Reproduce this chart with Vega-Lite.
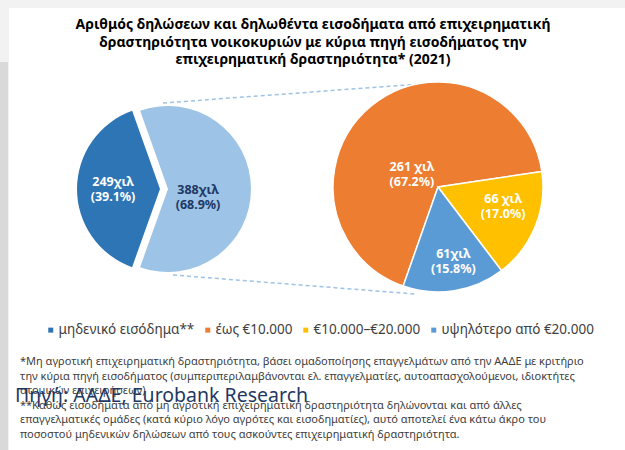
{
  "$schema": "https://vega.github.io/schema/vega-lite/v6.json",
  "width": 625,
  "height": 450,
  "padding": 0,
  "autosize": {"type": "none"},
  "background": "#f2f2f2",
  "config": {"view": {"stroke": null}, "font": "Noto Sans"},
  "datasets": {
    "left": [
      {"segment": "μη μηδενικό εισόδημα", "value": 388, "k": 1, "label": "388χιλ\n(68.9%)"},
      {"segment": "μηδενικό εισόδημα**", "value": 249, "k": 2, "label": "249χιλ\n(39.1%)"}
    ],
    "right": [
      {"segment": "έως €10.000", "value": 261, "k": 1, "label": "261 χιλ\n(67.2%)"},
      {"segment": "€10.000–€20.000", "value": 66, "k": 2, "label": "66 χιλ\n(17.0%)"},
      {"segment": "υψηλότερο από €20.000", "value": 61, "k": 3, "label": "61χιλ\n(15.8%)"}
    ]
  },
  "layer": [
    {
      "data": {"values": [{}]},
      "mark": {"type": "rect", "color": "#ffffff"},
      "encoding": {
        "x": {"datum": 9, "type": "quantitative", "scale": {"domain": [0, 625], "nice": false, "zero": false}, "axis": null},
        "x2": {"datum": 625},
        "y": {"datum": 8, "type": "quantitative", "scale": {"domain": [0, 450], "nice": false, "zero": false, "reverse": true}, "axis": null},
        "y2": {"datum": 450}
      }
    },
    {
      "data": {"values": [{}]},
      "mark": {"type": "rect", "color": "#d9d9d9"},
      "encoding": {
        "x": {"datum": 0, "type": "quantitative", "axis": null},
        "x2": {"datum": 8},
        "y": {"datum": 62, "type": "quantitative", "axis": null},
        "y2": {"datum": 450}
      }
    },
    {
      "data": {"values": [{}]},
      "mark": {"type": "rule", "color": "#9dc3e6", "strokeWidth": 1.5, "strokeDash": [4, 3]},
      "encoding": {
        "x": {"datum": 163, "type": "quantitative", "axis": null},
        "x2": {"datum": 420},
        "y": {"datum": 103, "type": "quantitative", "axis": null},
        "y2": {"datum": 84}
      }
    },
    {
      "data": {"values": [{}]},
      "mark": {"type": "rule", "color": "#9dc3e6", "strokeWidth": 1.5, "strokeDash": [4, 3]},
      "encoding": {
        "x": {"datum": 173, "type": "quantitative", "axis": null},
        "x2": {"datum": 415},
        "y": {"datum": 275, "type": "quantitative", "axis": null},
        "y2": {"datum": 294}
      }
    },
    {
      "data": {"name": "left"},
      "mark": {"type": "arc", "radius": 83},
      "encoding": {
        "x": {"datum": 160, "type": "quantitative", "axis": null},
        "y": {"datum": 189, "type": "quantitative", "axis": null},
        "theta": {"field": "value", "type": "quantitative", "stack": true, "scale": {"range": [5.941, 12.224]}},
        "order": {"field": "k", "type": "quantitative"},
        "opacity": {"condition": {"test": "datum.k === 1", "value": 0}, "value": 1},
        "color": {
          "field": "segment", "type": "nominal",
          "scale": {"domain": ["μηδενικό εισόδημα**", "έως €10.000", "€10.000–€20.000", "υψηλότερο από €20.000", "μη μηδενικό εισόδημα"], "range": ["#2e75b6", "#ed7d31", "#ffc000", "#5b9bd5", "#9dc3e6"]},
          "legend": {"values": ["μηδενικό εισόδημα**", "έως €10.000", "€10.000–€20.000", "υψηλότερο από €20.000"], "title": null, "orient": "none", "legendX": 44, "legendY": 323, "direction": "horizontal", "symbolType": "square", "symbolSize": 25, "symbolOpacity": 1, "symbolStrokeWidth": 0, "labelFontSize": 13.5, "labelColor": "#404040", "labelFont": "Noto Sans", "columnPadding": 6, "labelOffset": 1}
        }
      }
    },
    {
      "data": {"name": "left"},
      "mark": {"type": "arc", "radius": 83},
      "encoding": {
        "x": {"datum": 168, "type": "quantitative", "axis": null},
        "y": {"datum": 189, "type": "quantitative", "axis": null},
        "theta": {"field": "value", "type": "quantitative", "stack": true, "scale": {"range": [5.941, 12.224]}},
        "order": {"field": "k", "type": "quantitative"},
        "opacity": {"condition": {"test": "datum.k === 2", "value": 0}, "value": 1},
        "color": {
          "field": "segment", "type": "nominal",
          "scale": {"domain": ["μηδενικό εισόδημα**", "έως €10.000", "€10.000–€20.000", "υψηλότερο από €20.000", "μη μηδενικό εισόδημα"], "range": ["#2e75b6", "#ed7d31", "#ffc000", "#5b9bd5", "#9dc3e6"]},
          "legend": {"values": ["μηδενικό εισόδημα**", "έως €10.000", "€10.000–€20.000", "υψηλότερο από €20.000"], "title": null, "orient": "none", "legendX": 44, "legendY": 323, "direction": "horizontal", "symbolType": "square", "symbolSize": 25, "symbolOpacity": 1, "symbolStrokeWidth": 0, "labelFontSize": 13.5, "labelColor": "#404040", "labelFont": "Noto Sans", "columnPadding": 6, "labelOffset": 1}
        }
      }
    },
    {
      "data": {"name": "right"},
      "mark": {"type": "arc", "radius": 105, "stroke": "#ffffff", "strokeWidth": 1.5},
      "encoding": {
        "x": {"datum": 438, "type": "quantitative", "axis": null},
        "y": {"datum": 187, "type": "quantitative", "axis": null},
        "theta": {"field": "value", "type": "quantitative", "stack": true, "scale": {"range": [3.48, 9.763]}},
        "order": {"field": "k", "type": "quantitative"},
        "color": {
          "field": "segment", "type": "nominal",
          "scale": {"domain": ["μηδενικό εισόδημα**", "έως €10.000", "€10.000–€20.000", "υψηλότερο από €20.000", "μη μηδενικό εισόδημα"], "range": ["#2e75b6", "#ed7d31", "#ffc000", "#5b9bd5", "#9dc3e6"]},
          "legend": {"values": ["μηδενικό εισόδημα**", "έως €10.000", "€10.000–€20.000", "υψηλότερο από €20.000"], "title": null, "orient": "none", "legendX": 44, "legendY": 323, "direction": "horizontal", "symbolType": "square", "symbolSize": 25, "symbolOpacity": 1, "symbolStrokeWidth": 0, "labelFontSize": 13.5, "labelColor": "#404040", "labelFont": "Noto Sans", "columnPadding": 6, "labelOffset": 1}
        }
      }
    },
    {
      "data": {"name": "left"},
      "mark": {"type": "text", "radius": 47, "dy": -7, "lineBreak": "\n", "fontSize": 12.5, "fontWeight": "bold", "color": "#ffffff", "lineHeight": 15},
      "encoding": {
        "x": {"datum": 160, "type": "quantitative", "axis": null},
        "y": {"datum": 189, "type": "quantitative", "axis": null},
        "theta": {"field": "value", "type": "quantitative", "stack": true, "scale": {"range": [5.941, 12.224]}},
        "order": {"field": "k", "type": "quantitative"},
        "text": {"field": "label"},
        "opacity": {"condition": {"test": "datum.k === 1", "value": 0}, "value": 1}
      }
    },
    {
      "data": {"name": "left"},
      "mark": {"type": "text", "radius": 30, "dy": 1, "lineBreak": "\n", "fontSize": 12.5, "fontWeight": "bold", "color": "#203864", "lineHeight": 15},
      "encoding": {
        "x": {"datum": 168, "type": "quantitative", "axis": null},
        "y": {"datum": 189, "type": "quantitative", "axis": null},
        "theta": {"field": "value", "type": "quantitative", "stack": true, "scale": {"range": [5.941, 12.224]}},
        "order": {"field": "k", "type": "quantitative"},
        "text": {"field": "label"},
        "opacity": {"condition": {"test": "datum.k === 2", "value": 0}, "value": 1}
      }
    },
    {
      "data": {"name": "right"},
      "mark": {"type": "text", "radius": 30, "dx": -7, "dy": 3, "lineBreak": "\n", "fontSize": 12.5, "fontWeight": "bold", "color": "#ffffff", "lineHeight": 15},
      "encoding": {
        "x": {"datum": 438, "type": "quantitative", "axis": null},
        "y": {"datum": 187, "type": "quantitative", "axis": null},
        "theta": {"field": "value", "type": "quantitative", "stack": true, "scale": {"range": [3.48, 9.763]}},
        "order": {"field": "k", "type": "quantitative"},
        "text": {"field": "label"},
        "opacity": {"condition": {"test": "datum.k === 1", "value": 1}, "value": 0}
      }
    },
    {
      "data": {"name": "right"},
      "mark": {"type": "text", "radius": 67, "dx": 3, "dy": -13, "lineBreak": "\n", "fontSize": 12.5, "fontWeight": "bold", "color": "#ffffff", "lineHeight": 15},
      "encoding": {
        "x": {"datum": 438, "type": "quantitative", "axis": null},
        "y": {"datum": 187, "type": "quantitative", "axis": null},
        "theta": {"field": "value", "type": "quantitative", "stack": true, "scale": {"range": [3.48, 9.763]}},
        "order": {"field": "k", "type": "quantitative"},
        "text": {"field": "label"},
        "opacity": {"condition": {"test": "datum.k === 2", "value": 1}, "value": 0}
      }
    },
    {
      "data": {"name": "right"},
      "mark": {"type": "text", "radius": 73, "dx": 4, "dy": -5, "lineBreak": "\n", "fontSize": 12.5, "fontWeight": "bold", "color": "#ffffff", "lineHeight": 15},
      "encoding": {
        "x": {"datum": 438, "type": "quantitative", "axis": null},
        "y": {"datum": 187, "type": "quantitative", "axis": null},
        "theta": {"field": "value", "type": "quantitative", "stack": true, "scale": {"range": [3.48, 9.763]}},
        "order": {"field": "k", "type": "quantitative"},
        "text": {"field": "label"},
        "opacity": {"condition": {"test": "datum.k === 3", "value": 1}, "value": 0}
      }
    },
    {
      "data": {"values": [{}]},
      "mark": {"type": "text", "text": ["Αριθμός δηλώσεων και δηλωθέντα εισοδήματα από επιχειρηματική", "δραστηριότητα νοικοκυριών με κύρια πηγή εισοδήματος την", "επιχειρηματική δραστηριότητα* (2021)"], "fontSize": 14, "fontWeight": "bold", "color": "#000000", "align": "center", "baseline": "top", "lineHeight": 17.5},
      "encoding": {
        "x": {"datum": 313, "type": "quantitative", "axis": null},
        "y": {"datum": 18, "type": "quantitative", "axis": null}
      }
    },
    {
      "data": {"values": [{}]},
      "mark": {"type": "text", "text": ["*Μη αγροτική επιχειρηματική δραστηριότητα, βάσει ομαδοποίησης επαγγελμάτων από την ΑΑΔΕ με κριτήριο", "την κύρια πηγή εισοδήματος (συμπεριπεριλαμβάνονται ελ. επαγγελματίες, αυτοαπασχολούμενοι, ιδιοκτήτες", "ατομικών επιχειρήσεων)", "**Καθώς εισοδήματα από μη αγροτική επιχειρηματική δραστηριότητα δηλώνονται και από άλλες", "επαγγελματικές ομάδες (κατά κύριο λόγο αγρότες και εισοδηματίες), αυτό αποτελεί ένα κάτω άκρο του", "ποσοστού μηδενικών δηλώσεων από τους ασκούντες επιχειρηματική δραστηριότητα."], "fontSize": 11, "color": "#404040", "align": "left", "baseline": "top", "lineHeight": 14.5},
      "encoding": {
        "x": {"datum": 20, "type": "quantitative", "axis": null},
        "y": {"datum": 356, "type": "quantitative", "axis": null}
      }
    },
    {
      "data": {"values": [{}]},
      "mark": {"type": "text", "text": "Πηγή: ΑΑΔΕ, Eurobank Research", "fontSize": 19.5, "color": "#1f3864", "align": "left", "baseline": "middle"},
      "encoding": {
        "x": {"datum": 15, "type": "quantitative", "axis": null},
        "y": {"datum": 396, "type": "quantitative", "axis": null}
      }
    }
  ],
  "resolve": {"scale": {"theta": "independent"}}
}
